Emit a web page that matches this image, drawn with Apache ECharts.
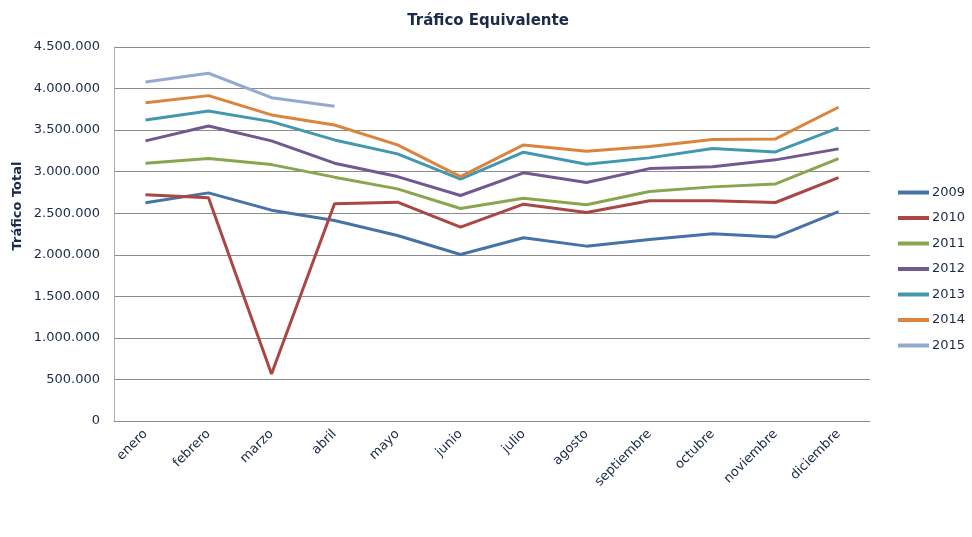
<!DOCTYPE html>
<html>
<head>
<meta charset="utf-8">
<script src="https://cdn.jsdelivr.net/npm/echarts@6/dist/echarts.min.js"></script>
<style>
  html, body { margin: 0; padding: 0; background: #fff; }
  #chart { width: 972px; height: 537px; }
</style>
</head>
<body>
<div id="chart"></div>
<script>
const months = ['enero', 'febrero', 'marzo', 'abril', 'mayo', 'junio', 'julio', 'agosto', 'septiembre', 'octubre', 'noviembre', 'diciembre'];

const y2009 = [2625000, 2745000, 2537000, 2412000, 2232000, 2004000, 2204000, 2104000, 2184000, 2252000, 2213000, 2520000];
const y2010 = [2721000, 2685000, 566000, 2615000, 2633000, 2333000, 2609000, 2508000, 2649000, 2649000, 2629000, 2929000];
const y2011 = [3100000, 3157000, 3085000, 2934000, 2793000, 2557000, 2681000, 2601000, 2761000, 2817000, 2853000, 3157000];
const y2012 = [3370000, 3550000, 3370000, 3102000, 2941000, 2713000, 2986000, 2869000, 3037000, 3058000, 3142000, 3274000];
const y2013 = [3622000, 3731000, 3602000, 3382000, 3214000, 2910000, 3234000, 3090000, 3166000, 3278000, 3238000, 3526000];
const y2014 = [3830000, 3915000, 3683000, 3562000, 3322000, 2941000, 3322000, 3246000, 3302000, 3386000, 3394000, 3775000];
const y2015 = [4079000, 4184000, 3890000, 3787000];

const seriesNames = ['2009', '2010', '2011', '2012', '2013', '2014', '2015'];
const seriesData = [y2009, y2010, y2011, y2012, y2013, y2014, y2015];
const colors = ['#4572A7', '#AA4643', '#89A54E', '#71588F', '#4198AF', '#DB843D', '#93A9CF'];

const textColor = '#1b2a47';
const font = 'DejaVu Sans';

const chart = echarts.init(document.getElementById('chart'));

// 4500000 -> 4.500.000
function fmt(v) {
  return String(v).replace(/\B(?=(\d{3})+(?!\d))/g, '.');
}

chart.setOption({
  animation: false,
  color: colors,
  title: {
    text: 'Tráfico Equivalente',
    left: 483,
    textAlign: 'center',
    top: 9,
    textStyle: { fontFamily: font, fontSize: 15, fontWeight: 'bold', color: textColor }
  },
  legend: {
    orient: 'vertical',
    left: 893,
    top: 181,
    icon: 'rect',
    itemWidth: 31,
    itemHeight: 4,
    itemGap: 12.5,
    textStyle: { fontFamily: font, fontSize: 13, color: textColor, padding: [0, 0, 0, -2] },
    data: seriesNames
  },
  grid: { left: 114, right: 102, top: 47, bottom: 116, containLabel: false },
  xAxis: {
    type: 'category',
    data: months,
    boundaryGap: true,
    axisLine: { lineStyle: { color: '#8c8c8c', width: 1 } },
    axisTick: { show: false },
    axisLabel: { rotate: 45, margin: 11, fontFamily: font, fontSize: 13, color: textColor, interval: 0 }
  },
  yAxis: {
    type: 'value',
    min: 0,
    max: 4500000,
    interval: 500000,
    axisLine: { show: true, lineStyle: { color: '#b0b0b0', width: 1 } },
    axisTick: { show: false },
    splitLine: { lineStyle: { color: '#8c8c8c', width: 1 } },
    axisLabel: { fontFamily: font, fontSize: 13, color: textColor, margin: 14, formatter: fmt }
  },
  graphic: [{
    type: 'text',
    x: 18,
    y: 206,
    rotation: Math.PI / 2,
    style: {
      text: 'Tráfico Total',
      fontFamily: font,
      fontSize: 13,
      fontWeight: 'bold',
      fill: textColor,
      align: 'center',
      verticalAlign: 'middle'
    }
  }],
  series: seriesNames.map((name, i) => ({
    name: name,
    type: 'line',
    data: seriesData[i],
    symbol: 'none',
    lineStyle: { width: 3, color: colors[i] },
    itemStyle: { color: colors[i] }
  }))
});
</script>
</body>
</html>
